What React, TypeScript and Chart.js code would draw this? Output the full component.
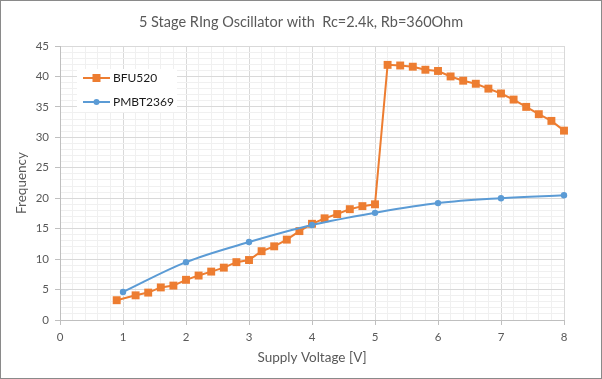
import React, { useEffect, useRef } from 'react';
import { Chart, registerables } from 'chart.js';

Chart.register(...registerables);

const TITLE = '5 Stage RIng Oscillator with  Rc=2.4k, Rb=360Ohm';
const X_TITLE = 'Supply Voltage [V]';
const Y_TITLE = 'Frequency';

const bfuLabel = 'BFU520';
const pmbtLabel = 'PMBT2369';

const bfuVoltage = [0.9, 1.2, 1.4, 1.6, 1.8, 2.0, 2.2, 2.4, 2.6, 2.8, 3.0, 3.2, 3.4, 3.6, 3.8, 4.0, 4.2, 4.4, 4.6, 4.8, 5.0,
  5.2, 5.4, 5.6, 5.8, 6.0, 6.2, 6.4, 6.6, 6.8, 7.0, 7.2, 7.4, 7.6, 7.8, 8.0];
const bfuFrequency = [3.25, 4.05, 4.5, 5.35, 5.65, 6.6, 7.3, 7.95, 8.6, 9.5, 9.85, 11.3, 12.1, 13.2, 14.6, 15.8, 16.7, 17.4, 18.2, 18.7, 19.0,
  41.9, 41.8, 41.6, 41.1, 40.9, 40.0, 39.3, 38.8, 38.0, 37.2, 36.2, 35.0, 33.8, 32.7, 31.1];

const pmbtVoltage = [1, 2, 3, 4, 5, 6, 7, 8];
const pmbtFrequency = [4.6, 9.5, 12.8, 15.6, 17.6, 19.2, 20.0, 20.5];

const xMin = 0, xMax = 8, xMinorStep = 0.2, xMajorStep = 1;
const yMin = 0, yMax = 45, yMinorStep = 1, yMajorStep = 5;

const ORANGE = '#ED7D31';
const BLUE = '#5B9BD5';
const TEXT = '#595959';
const FONT = 'Lato, "Open Sans", sans-serif';

const isMultiple = (v: number, step: number) => {
  const r = v / step;
  return Math.abs(r - Math.round(r)) < 1e-6;
};

const frame = {
  id: 'frame',
  beforeDraw(chart: any) {
    const { ctx, width, height } = chart;
    ctx.save();
    ctx.fillStyle = '#ffffff';
    ctx.fillRect(0, 0, width, height);
    ctx.restore();
  },
  afterDraw(chart: any) {
    const { ctx, width, height } = chart;
    ctx.save();
    ctx.strokeStyle = '#8a8a8a';
    ctx.lineWidth = 1;
    ctx.strokeRect(0.5, 0.5, width - 1, height - 1);
    ctx.fillStyle = TEXT;
    ctx.font = `14.5px ${FONT}`;
    ctx.textAlign = 'center';
    ctx.textBaseline = 'middle';
    ctx.fillText(TITLE, width / 2, 22);
    ctx.restore();
  },
};

const insideLegend = {
  id: 'insideLegend',
  beforeDatasetsDraw(chart: any) {
    const { ctx, chartArea } = chart;
    const left = chartArea.left + 17;
    const top = chartArea.top + 23;
    ctx.save();
    ctx.fillStyle = '#ffffff';
    ctx.fillRect(left, top, 100, 43);
    const items = [
      { label: bfuLabel, color: ORANGE, shape: 'rect', dy: 9 },
      { label: pmbtLabel, color: BLUE, shape: 'circle', dy: 33 },
    ];
    for (const it of items) {
      const y = top + it.dy;
      ctx.strokeStyle = it.color;
      ctx.lineWidth = 2;
      ctx.beginPath();
      ctx.moveTo(left + 6, y);
      ctx.lineTo(left + 33, y);
      ctx.stroke();
      ctx.fillStyle = it.color;
      const cx = left + 19.5;
      if (it.shape === 'rect') {
        ctx.fillRect(cx - 4, y - 4, 8, 8);
      } else {
        ctx.beginPath();
        ctx.arc(cx, y, 3, 0, Math.PI * 2);
        ctx.fill();
      }
      ctx.fillStyle = '#1a1a1a';
      ctx.font = `12px ${FONT}`;
      ctx.textAlign = 'left';
      ctx.textBaseline = 'middle';
      ctx.fillText(it.label, left + 36, y + 0.5);
    }
    ctx.restore();
  },
};

export default function App() {
  const ref = useRef<HTMLCanvasElement>(null);
  useEffect(() => {
    document.body.style.margin = '0';
    const canvas = ref.current;
    if (!canvas) return;
    const chart = new Chart(canvas, {
      type: 'line',
      data: {
        datasets: [
          {
            label: bfuLabel,
            data: bfuVoltage.map((x, i) => ({ x, y: bfuFrequency[i] })),
            borderColor: ORANGE,
            backgroundColor: ORANGE,
            borderWidth: 2,
            pointStyle: 'rect',
            pointRadius: 5.6,
            pointBorderWidth: 0,
            tension: 0,
            clip: false,
            order: 1,
          },
          {
            label: pmbtLabel,
            data: pmbtVoltage.map((x, i) => ({ x, y: pmbtFrequency[i] })),
            borderColor: BLUE,
            backgroundColor: BLUE,
            borderWidth: 2,
            pointStyle: 'circle',
            pointRadius: 3.2,
            pointBorderWidth: 0,
            tension: 0.35,
            clip: false,
            order: 0,
          },
        ],
      },
      options: {
        responsive: false,
        animation: false,
        devicePixelRatio: 1,
        layout: { padding: { left: 0, top: 46, right: 38, bottom: 0 } },
        plugins: {
          legend: { display: false },
          title: { display: false },
          tooltip: { enabled: false },
        },
        scales: {
          x: {
            type: 'linear',
            min: xMin,
            max: xMax,
            afterFit: (s: any) => { s.height = 59; },
            ticks: {
              stepSize: xMinorStep,
              autoSkip: false,
              maxRotation: 0,
              minRotation: 0,
              padding: 5,
              color: TEXT,
              font: { family: FONT, size: 11.5 },
              callback: (v: any) => (isMultiple(Number(v), xMajorStep) ? String(Math.round(Number(v))) : ''),
            },
            grid: {
              color: (c: any) => (c.tick && isMultiple(c.tick.value, xMajorStep) ? '#d9d9d9' : '#f0f0f0'),
              tickColor: (c: any) => (c.tick && isMultiple(c.tick.value, xMajorStep) ? '#bfbfbf' : 'rgba(0,0,0,0)'),
              tickLength: 5,
            },
            border: { display: true, color: '#bfbfbf' },
            title: {
              display: true,
              text: X_TITLE,
              color: TEXT,
              font: { family: FONT, size: 13.5 },
              padding: { top: 13, bottom: 13 },
            },
          },
          y: {
            type: 'linear',
            min: yMin,
            max: yMax,
            afterFit: (s: any) => { s.width = 60; },
            ticks: {
              stepSize: yMinorStep,
              autoSkip: false,
              padding: 6,
              color: TEXT,
              font: { family: FONT, size: 11.5 },
              callback: (v: any) => (isMultiple(Number(v), yMajorStep) ? String(Math.round(Number(v))) : ''),
            },
            grid: {
              color: (c: any) => (c.tick && isMultiple(c.tick.value, yMajorStep) ? '#d9d9d9' : '#f0f0f0'),
              tickColor: (c: any) => (c.tick && isMultiple(c.tick.value, yMajorStep) ? '#bfbfbf' : 'rgba(0,0,0,0)'),
              tickLength: 5,
            },
            border: { display: true, color: '#bfbfbf' },
            title: {
              display: true,
              text: Y_TITLE,
              color: TEXT,
              font: { family: FONT, size: 13.5 },
              padding: { top: 14, bottom: 14 },
            },
          },
        },
      },
      plugins: [frame, insideLegend],
    });
    return () => chart.destroy();
  }, []);
  return (
    <div style={{ width: 602, height: 379 }}>
      <canvas ref={ref} width={602} height={379} style={{ display: 'block', width: 602, height: 379 }} />
    </div>
  );
}
